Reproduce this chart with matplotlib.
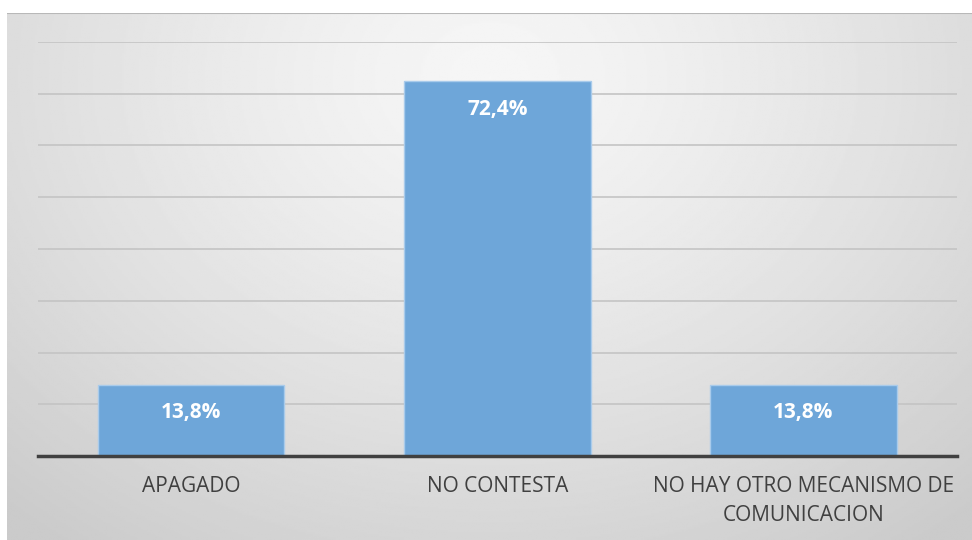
import numpy as np
import matplotlib.pyplot as plt

categorias = ['APAGADO', 'NO CONTESTA', 'NO HAY OTRO MECANISMO DE\nCOMUNICACION']
porcentajes = [13.8, 72.4, 13.8]
etiquetas = ['13,8%', '72,4%', '13,8%']

plt.rcParams['font.family'] = ['Open Sans', 'DejaVu Sans']

W, H = 972, 540
fig = plt.figure(figsize=(W / 100, H / 100), dpi=100)
fig.patch.set_facecolor('white')

# fondo con degradado radial
bg = fig.add_axes([7 / W, 0, (W - 7) / W, (H - 13) / H])
yy, xx = np.mgrid[0:1:300j, 0:1:500j]
r = np.sqrt(((xx - 0.5) / 0.75) ** 2 + ((yy - 0.12) / 1.1) ** 2)
r = np.clip(r, 0, 1)
gris = 0.965 - 0.17 * r ** 1.3
bg.imshow(gris, cmap='gray', vmin=0, vmax=1, aspect='auto', extent=[0, 1, 1, 0])
bg.axhline(0.0, color='#b8b8b8', lw=1.5)
bg.set_axis_off()

ax = fig.add_axes([38 / W, 84 / H, (956.5 - 38) / W, (456 - 42) / H])
ax.patch.set_alpha(0)
x = np.arange(len(categorias))
barras = ax.bar(x, porcentajes, width=0.61, color='#6ea6d9',
                edgecolor='#a9cbeb', linewidth=1, zorder=3)
ax.set_ylim(0, 80)
ax.set_xlim(-0.5, 2.5)
ax.set_yticks(np.arange(10, 81, 10))
ax.yaxis.grid(True, color='#c4c4c4', lw=1.2, zorder=0)
ax.tick_params(axis='y', left=False, labelleft=False)
ax.tick_params(axis='x', bottom=False, pad=11)
ax.set_xticks(x)
ax.set_xticklabels(categorias, fontsize=15, color='#404040', linespacing=1.5)
for s in ['top', 'right', 'left']:
    ax.spines[s].set_visible(False)
ax.spines['bottom'].set_color('#404040')
ax.spines['bottom'].set_linewidth(2.5)
ax.spines['bottom'].set_zorder(4)

for b, txt in zip(barras, etiquetas):
    ax.annotate(txt, (b.get_x() + b.get_width() / 2, b.get_height()),
                xytext=(0, -28), textcoords='offset pixels',
                ha='center', va='center', fontsize=15, fontweight='bold',
                color='white', zorder=5)

fig.savefig('out.png', dpi=100)
